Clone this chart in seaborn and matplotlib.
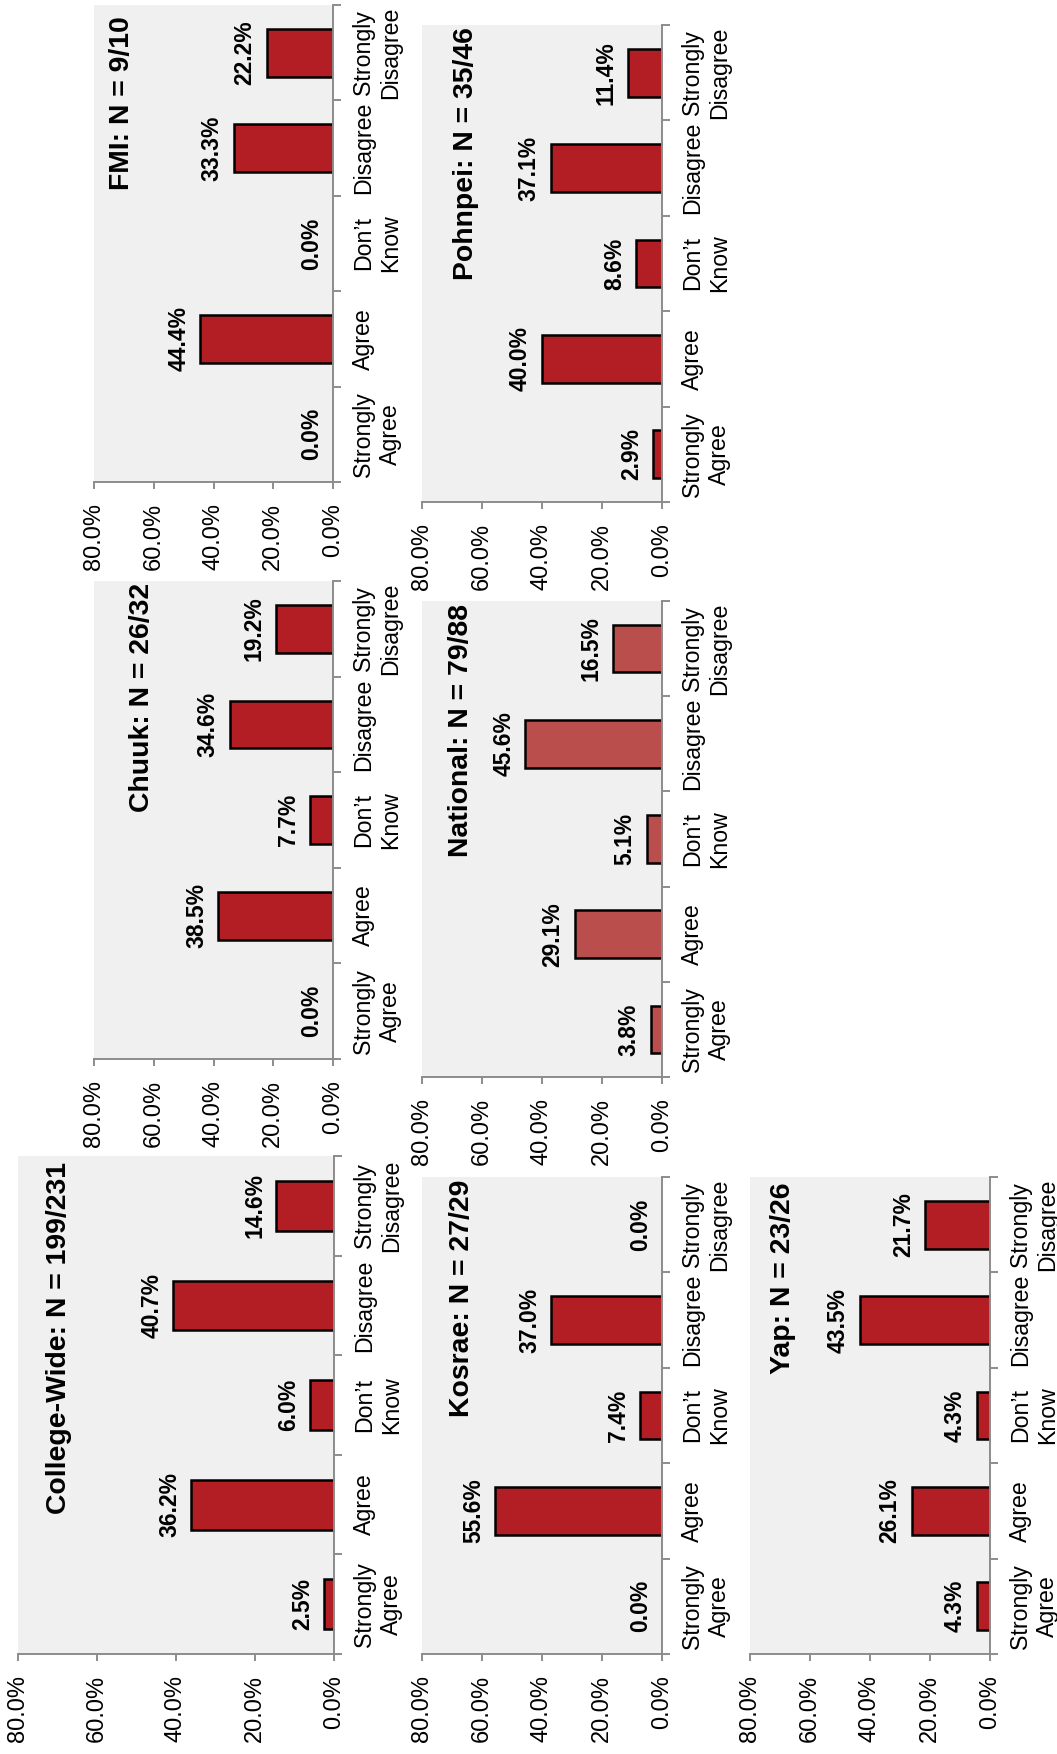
import matplotlib
matplotlib.use("Agg")
import matplotlib.pyplot as plt
import seaborn as sns
import pandas as pd
from matplotlib.ticker import FuncFormatter

# ---------------- data ----------------
categories = ["Strongly\nDisagree", "Disagree", "Don\u2019t\nKnow", "Agree", "Strongly\nAgree"]

college_wide = [14.6, 40.7, 6.0, 36.2, 2.5]
chuuk = [19.2, 34.6, 7.7, 38.5, 0.0]
fmi = [22.2, 33.3, 0.0, 44.4, 0.0]
kosrae = [0.0, 37.0, 7.4, 55.6, 0.0]
national = [16.5, 45.6, 5.1, 29.1, 3.8]
pohnpei = [11.4, 37.1, 8.6, 40.0, 2.9]
yap = [21.7, 43.5, 4.3, 26.1, 4.3]

titles = {
    "fmi": "FMI: N = 9/10",
    "chuuk": "Chuuk: N = 26/32",
    "college": "College-Wide: N = 199/231",
    "pohnpei": "Pohnpei: N = 35/46",
    "national": "National: N = 79/88",
    "kosrae": "Kosrae: N = 27/29",
    "yap": "Yap: N = 23/26",
}
value_ticks = [0, 20, 40, 60, 80]

# ---------------- style ----------------
plt.rcParams["font.family"] = ["Liberation Sans", "DejaVu Sans"]
RED = "#B21E24"
RED_LIGHT = "#B94E4C"
BG = "#EFF0EF"
AXC = "#8C8C8C"

W, H = 1057, 1754
fig = plt.figure(figsize=(W / 100, H / 100), dpi=100)
fig.patch.set_facecolor("white")

# panel layout in pixels: (x_left(80%), y_top, x_right(0%), y_bottom), title center x, title top y
panels = [
    ("fmi", fmi, RED, (94, 5, 333, 482), (122, 16)),
    ("chuuk", chuuk, RED, (94, 581, 333, 1059), (142, 583)),
    ("college", college_wide, RED, (18, 1156, 334, 1654), (59, 1162)),
    ("pohnpei", pohnpei, RED, (422, 25, 662, 502), (466, 27)),
    ("national", national, RED_LIGHT, (422, 601, 662, 1077), (461, 604)),
    ("kosrae", kosrae, RED, (422, 1177, 662, 1654), (462, 1180)),
    ("yap", yap, RED, (750, 1177, 990, 1654), (783, 1182)),
]

pct = FuncFormatter(lambda v, p: f"{v:.1f}%")

for key, vals, color, (x0, y0, x1, y1), (tcx, tty) in panels:
    ax = fig.add_axes([x0 / W, 1 - y1 / H, (x1 - x0) / W, (y1 - y0) / H])
    ax.set_facecolor(BG)
    df = pd.DataFrame({"category": categories, "value": vals})
    sns.barplot(data=df, x="value", y="category", order=categories, orient="h",
                color=color, saturation=1, edgecolor="black", linewidth=1.8,
                width=0.5, errorbar=None, ax=ax)
    for p in ax.patches:
        if p.get_width() == 0:
            p.set_linewidth(0)
    ax.set_xlim(80, 0)
    ax.set_ylim(4.5, -0.5)
    ax.set_xlabel("")
    ax.set_ylabel("")

    # value axis (bottom in picture)
    ax.set_xticks(value_ticks)
    ax.xaxis.set_major_formatter(pct)
    ax.tick_params(axis="x", which="major", length=5, width=1.4, color=AXC,
                   pad=10, labelsize=17, labelrotation=90, direction="out")

    # category axis (right in picture)
    ax.yaxis.tick_right()
    ax.set_yticks(range(len(categories)))
    ax.set_yticklabels(categories, rotation=90, va="center", ha="left",
                       multialignment="center")
    ax.set_yticks([i - 0.5 for i in range(len(categories) + 1)], minor=True)
    ax.tick_params(axis="y", which="major", length=0, pad=14, labelsize=16.7)
    ax.tick_params(axis="y", which="minor", length=6, width=1.4, color=AXC,
                   direction="out")

    for s in ("left", "top"):
        ax.spines[s].set_visible(False)
    for s in ("right", "bottom"):
        ax.spines[s].set_color(AXC)
        ax.spines[s].set_linewidth(1.4)

    for i, v in enumerate(vals):
        ax.annotate(f"{v:.1f}%", xy=(v, i), xytext=(-10, 0),
                    textcoords="offset pixels", rotation=90, ha="right",
                    va="center", fontsize=16.5, fontweight="bold", color="black")

    fig.text(tcx / W, 1 - tty / H, titles[key], rotation=90, ha="center",
             va="top", fontsize=20.4, fontweight="bold", color="black")

fig.savefig("out.png", dpi=100, facecolor="white")
